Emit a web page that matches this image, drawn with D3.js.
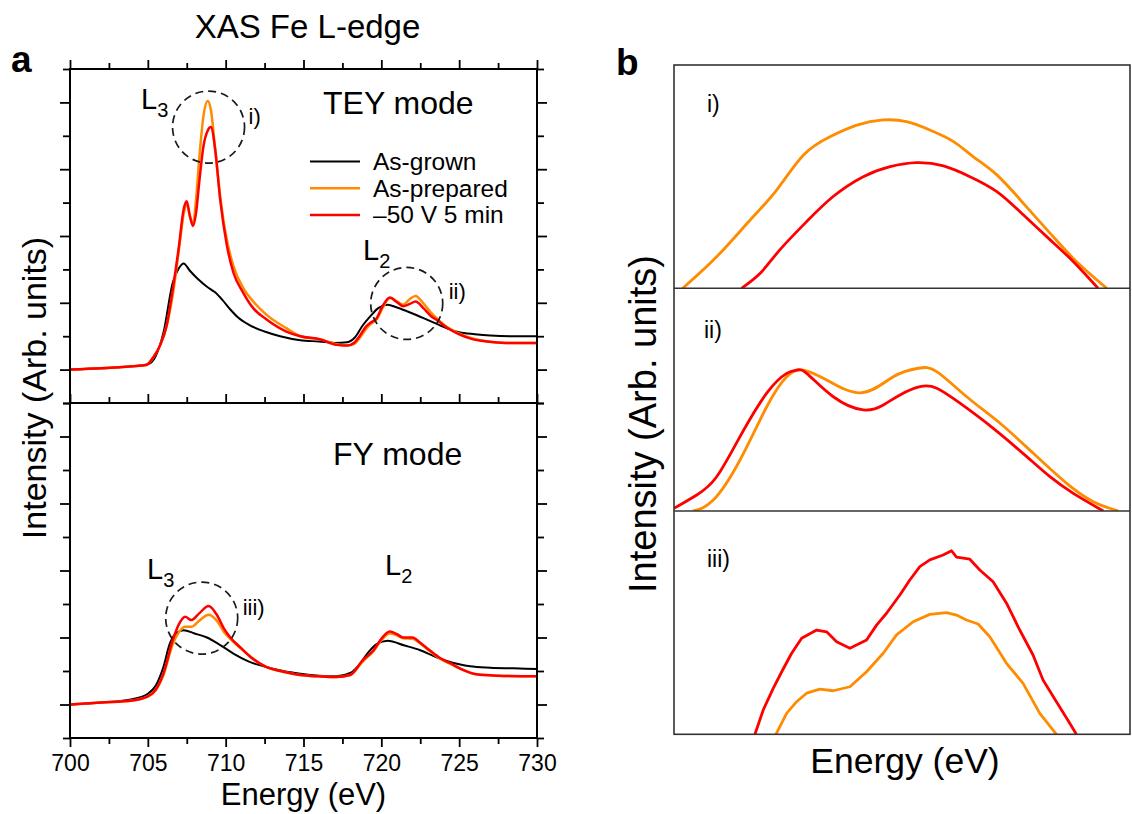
<!DOCTYPE html>
<html>
<head>
<meta charset="utf-8">
<script src="https://cdn.jsdelivr.net/npm/d3@7"></script>
<style>
  body { margin: 0; background: #fff; }
  svg text { font-family: "Liberation Sans", Arial, Helvetica, sans-serif; fill: #000; }
</style>
</head>
<body>
<svg id="fig" width="1132" height="814"></svg>
<script>
// ---------- data ----------
const energyMajor = [700, 705, 710, 715, 720, 725, 730];
const energyMinor = [702.5, 707.5, 712.5, 717.5, 722.5, 727.5];
const intensityMajor = [0, 1, 2, 3, 4];
const intensityMinor = [-0.5, 0.5, 1.5, 2.5, 3.5, 4.5];

const seriesNames = ["As-grown", "As-prepared", "\u201350 V 5 min"];
const seriesColors = ["#000000", "#ff8c00", "#ff0000"];

// TEY mode spectra [energy (eV), intensity]
const teyAsGrown = [[700,0],[702,0.02],[704,0.05],[705,0.08],[705.5,0.2],[706,0.55],[706.6,1.3],[707,1.52],[707.3,1.59],[707.7,1.48],[708.2,1.36],[708.8,1.24],[709.3,1.16],[709.8,1.04],[710.3,0.9],[710.8,0.78],[711.5,0.67],[712.5,0.57],[713.5,0.5],[714.8,0.44],[716,0.42],[717,0.4],[717.8,0.41],[718.3,0.48],[718.8,0.66],[719.3,0.8],[719.8,0.92],[720.4,0.97],[721,0.93],[722,0.84],[723,0.74],[723.6,0.68],[724.3,0.61],[725,0.56],[726,0.53],[727,0.51],[728.5,0.5],[730,0.5]];
const teyAsPrepared = [[700,0],[702,0.02],[704,0.05],[704.9,0.07],[705.4,0.2],[705.8,0.37],[706.2,0.65],[706.6,1.12],[707,1.8],[707.3,2.33],[707.5,2.48],[707.7,2.3],[707.9,2.18],[708.1,2.55],[708.3,3.15],[708.57,3.79],[708.85,4.02],[709.05,3.89],[709.33,3.29],[709.65,2.59],[710.07,1.95],[710.5,1.55],[711.13,1.22],[711.77,1.02],[712.63,0.82],[713.9,0.62],[714.8,0.5],[716.1,0.45],[717.1,0.38],[717.8,0.36],[718.3,0.39],[718.6,0.47],[719,0.6],[719.3,0.68],[719.7,0.75],[720.1,0.93],[720.55,1.07],[721,1.02],[721.4,0.97],[721.8,1.05],[722.2,1.1],[722.7,0.99],[723.2,0.85],[723.6,0.76],[724.2,0.64],[724.9,0.55],[725.8,0.47],[726.8,0.42],[728,0.4],[730,0.4]];
const teyBiased = [[700,0],[702,0.02],[704,0.05],[704.9,0.07],[705.4,0.2],[705.8,0.37],[706.2,0.65],[706.6,1.2],[707,1.85],[707.3,2.4],[707.5,2.52],[707.7,2.3],[707.9,2.15],[708.1,2.35],[708.3,2.8],[708.57,3.34],[708.85,3.58],[709.05,3.63],[709.33,3.29],[709.65,2.54],[710.07,1.87],[710.5,1.45],[711.13,1.15],[711.77,0.92],[712.63,0.75],[713.9,0.57],[714.8,0.5],[716.1,0.45],[717.1,0.37],[717.8,0.36],[718.3,0.41],[718.6,0.5],[719,0.64],[719.3,0.7],[719.7,0.77],[720.1,0.96],[720.55,1.08],[721,1.01],[721.4,0.95],[721.8,0.98],[722.2,1.02],[722.7,0.92],[723.2,0.8],[723.6,0.74],[724.2,0.63],[724.9,0.54],[725.8,0.46],[726.8,0.42],[728,0.4],[730,0.4]];

// FY mode spectra [energy (eV), intensity]
const fyAsGrown = [[700,0],[702,0.03],[704,0.08],[705,0.16],[705.5,0.28],[706,0.56],[706.4,0.9],[706.8,1.06],[707.3,1.11],[708,1.06],[708.8,1.0],[709.5,0.91],[710.5,0.76],[711.5,0.64],[712.6,0.56],[713.7,0.5],[714.8,0.46],[716,0.43],[717.1,0.42],[718,0.47],[718.6,0.6],[719.1,0.76],[719.7,0.9],[720.4,0.95],[721.5,0.88],[722.5,0.81],[723.4,0.72],[724.2,0.65],[725,0.6],[725.7,0.57],[727,0.55],[728.5,0.54],[730,0.53]];
const fyAsPrepared = [[700,0],[702,0.03],[704,0.06],[705,0.12],[705.5,0.21],[706,0.44],[706.6,0.9],[707,1.08],[707.4,1.16],[707.8,1.16],[708.3,1.25],[708.9,1.34],[709.4,1.26],[709.9,1.08],[710.3,0.98],[711,0.83],[711.6,0.71],[712.6,0.56],[713.7,0.49],[714.8,0.44],[716,0.42],[717.1,0.41],[718,0.44],[718.8,0.64],[719.5,0.8],[720,0.96],[720.55,1.06],[721,1.03],[721.4,0.99],[722,0.98],[722.5,0.91],[723.1,0.8],[723.8,0.68],[724.4,0.61],[725.2,0.52],[726.1,0.45],[727.5,0.43],[730,0.42]];
const fyBiased = [[700,0],[702,0.03],[704,0.06],[705,0.12],[705.5,0.22],[706,0.46],[706.6,0.96],[707,1.2],[707.4,1.31],[707.8,1.26],[708.3,1.36],[708.9,1.47],[709.4,1.35],[709.9,1.13],[710.3,1.0],[711,0.84],[711.6,0.71],[712.6,0.56],[713.7,0.49],[714.8,0.44],[716,0.42],[717.1,0.41],[718,0.44],[718.8,0.66],[719.5,0.81],[720,0.98],[720.55,1.09],[721,1.05],[721.4,1.0],[722,1.0],[722.5,0.92],[723.1,0.81],[723.8,0.69],[724.4,0.62],[725.2,0.52],[726.1,0.45],[727.5,0.43],[730,0.42]];

// magnified regions (panel b), [energy (eV), intensity above the window floor]
const zoomIPrepared = [[708.419,0],[708.494,0.142],[708.567,0.306],[708.625,0.44],[708.684,0.597],[708.742,0.679],[708.801,0.731],[708.859,0.754],[708.91,0.746],[708.961,0.709],[709.013,0.657],[709.056,0.59],[709.108,0.508],[709.166,0.381],[709.225,0.246],[709.283,0.119],[709.349,0]];
const zoomIBiased = [[708.548,0],[708.589,0.067],[708.632,0.172],[708.691,0.299],[708.749,0.411],[708.815,0.5],[708.874,0.545],[708.932,0.563],[708.991,0.548],[709.049,0.5],[709.108,0.433],[709.166,0.329],[709.225,0.217],[709.276,0.119],[709.33,0]];
const zoomIIPrepared = [[719.249,0],[719.524,0.049],[719.88,0.229],[720.236,0.468],[720.503,0.603],[720.724,0.633],[721.036,0.588],[721.503,0.531],[721.924,0.603],[722.257,0.641],[722.503,0.626],[722.903,0.513],[723.347,0.394],[723.791,0.259],[724.236,0.124],[724.591,0.042],[724.924,0]];
const zoomIIBiased = [[719.0,0.012],[719.303,0.072],[719.569,0.154],[719.88,0.334],[720.236,0.529],[720.503,0.618],[720.636,0.633],[720.769,0.618],[721.124,0.513],[721.524,0.454],[721.791,0.476],[722.013,0.521],[722.28,0.558],[722.503,0.551],[722.813,0.484],[723.257,0.371],[723.703,0.244],[724.013,0.154],[724.324,0.079],[724.724,0]];
const zoomIIIPrepared = [[706.933,0],[707.052,0.094],[707.163,0.146],[707.274,0.184],[707.422,0.202],[707.57,0.195],[707.756,0.213],[707.941,0.28],[708.126,0.363],[708.274,0.445],[708.459,0.504],[708.644,0.537],[708.83,0.545],[708.941,0.534],[709.052,0.512],[709.181,0.494],[709.311,0.437],[709.497,0.318],[709.681,0.228],[709.867,0.094],[710.052,0]];
const zoomIIIBiased = [[706.7,0],[706.792,0.109],[706.903,0.206],[707.008,0.288],[707.108,0.363],[707.219,0.43],[707.386,0.467],[707.497,0.459],[707.608,0.415],[707.756,0.385],[707.941,0.422],[708.052,0.489],[708.163,0.542],[708.311,0.624],[708.422,0.691],[708.533,0.751],[708.644,0.781],[708.792,0.803],[708.886,0.822],[708.941,0.793],[709.089,0.784],[709.2,0.736],[709.348,0.683],[709.497,0.587],[709.644,0.467],[709.792,0.355],[709.903,0.243],[710.052,0.146],[710.2,0.049],[710.274,0]];
const zoomEnergyRanges = [[708.4, 709.4], [719.0, 725.08], [705.8, 710.87]];
const zoomLabels = ["i)", "ii)", "iii)"];

// ---------- layout ----------
const svg = d3.select("#fig");
const FONT = '"Liberation Sans", Arial, Helvetica, sans-serif';

const x = d3.scaleLinear().domain([700, 730]).range([70, 537]);
const yTey = d3.scaleLinear().domain([-0.5, 4.5]).range([403, 69]);
const yFy = d3.scaleLinear().domain([-0.5, 4.5]).range([738, 403]);

// ---------- panel a: axes ----------
function drawTicks(axisFn, scale, values, size, translate, withLabels) {
  const ax = axisFn(scale).tickValues(values).tickSizeInner(size).tickSizeOuter(0).tickPadding(8);
  if (!withLabels) ax.tickFormat(() => "");
  const g = svg.append("g").attr("transform", translate).call(ax);
  g.select(".domain").remove();
  g.selectAll(".tick line").attr("stroke", "#000").attr("stroke-width", 1.8);
  g.selectAll(".tick text").attr("font-size", 23).attr("font-family", FONT).attr("fill", "#000");
  return g;
}
// energy axes: bottom of FY, top of TEY, shared divider
drawTicks(d3.axisBottom, x, energyMajor, 9, "translate(0,738)", true);
drawTicks(d3.axisBottom, x, energyMinor, 6, "translate(0,738)", false);
drawTicks(d3.axisTop, x, energyMajor, 9, "translate(0,69)", false);
drawTicks(d3.axisTop, x, energyMinor, 6, "translate(0,69)", false);
drawTicks(d3.axisTop, x, energyMajor, 9, "translate(0,403)", false);
drawTicks(d3.axisTop, x, energyMinor, 6, "translate(0,403)", false);
// intensity axes, left and right of both modes
[yTey, yFy].forEach(ys => {
  drawTicks(d3.axisLeft, ys, intensityMajor, 10, "translate(70,0)", false);
  drawTicks(d3.axisLeft, ys, intensityMinor, 7, "translate(70,0)", false);
  drawTicks(d3.axisRight, ys, intensityMajor, 10, "translate(537,0)", false);
  drawTicks(d3.axisRight, ys, intensityMinor, 7, "translate(537,0)", false);
});

// ---------- panel a: spectra ----------
const clipA = svg.append("defs");
clipA.append("clipPath").attr("id", "clipTey").append("rect").attr("x", 70).attr("y", 69).attr("width", 467).attr("height", 334);
clipA.append("clipPath").attr("id", "clipFy").append("rect").attr("x", 70).attr("y", 403).attr("width", 467).attr("height", 335);

function drawSpectra(sets, ys, clipId, widths) {
  const line = d3.line().x(d => x(d[0])).y(d => ys(d[1])).curve(d3.curveMonotoneX);
  const g = svg.append("g").attr("clip-path", `url(#${clipId})`);
  sets.forEach((s, i) => {
    g.append("path").datum(s).attr("d", line).attr("fill", "none")
      .attr("stroke", seriesColors[i]).attr("stroke-width", widths[i])
      .attr("stroke-linejoin", "round").attr("stroke-linecap", "round");
  });
}
drawSpectra([teyAsGrown, teyAsPrepared, teyBiased], yTey, "clipTey", [2, 2.5, 2.5]);
drawSpectra([fyAsGrown, fyAsPrepared, fyBiased], yFy, "clipFy", [2, 2.5, 2.5]);

// frame of panel a
svg.append("rect").attr("x", 70).attr("y", 69).attr("width", 467).attr("height", 669)
  .attr("fill", "none").attr("stroke", "#000").attr("stroke-width", 2);
svg.append("line").attr("x1", 70).attr("x2", 537).attr("y1", 403).attr("y2", 403)
  .attr("stroke", "#000").attr("stroke-width", 2);

// dashed circles marking the magnified regions
const circles = [
  { e: 708.9, v: 3.63, ys: yTey, label: "i)", dx: 40, dy: -3 },
  { e: 721.63, v: 0.99, ys: yTey, label: "ii)", dx: 42, dy: -4 },
  { e: 708.46, v: 1.29, ys: yFy, label: "iii)", dx: 41, dy: -3 }
];
circles.forEach(c => {
  const cx = x(c.e), cy = c.ys(c.v);
  svg.append("circle").attr("cx", cx).attr("cy", cy).attr("r", 36)
    .attr("fill", "none").attr("stroke", "#1a1a1a").attr("stroke-width", 1.7)
    .attr("stroke-dasharray", "8,5");
  svg.append("text").attr("x", cx + c.dx).attr("y", cy + c.dy)
    .attr("font-size", 22).text(c.label);
});

// edge labels
function edgeLabel(px, py, sub) {
  const t = svg.append("text").attr("x", px).attr("y", py).attr("font-size", 29);
  t.append("tspan").text("L");
  t.append("tspan").attr("font-size", 20).attr("dy", 8).text(sub);
}
edgeLabel(141, 109, "3");
edgeLabel(363, 260, "2");
edgeLabel(147, 579, "3");
edgeLabel(385, 575, "2");

// mode labels
svg.append("text").attr("x", 323).attr("y", 114).attr("font-size", 32).text("TEY mode");
svg.append("text").attr("x", 333).attr("y", 465).attr("font-size", 32).text("FY mode");

// legend
const legend = svg.append("g");
seriesNames.forEach((name, i) => {
  const yy = 161.5 + i * 26.7;
  legend.append("line").attr("x1", 310).attr("x2", 360).attr("y1", yy).attr("y2", yy)
    .attr("stroke", seriesColors[i]).attr("stroke-width", i === 0 ? 2 : 2.5);
  legend.append("text").attr("x", 373).attr("y", yy + 8.5).attr("font-size", 24.5).text(name);
});

// titles and axis labels
svg.append("text").attr("x", 307.5).attr("y", 38).attr("text-anchor", "middle").attr("font-size", 33).text("XAS Fe L-edge");
svg.append("text").attr("x", 11).attr("y", 72).attr("font-size", 37).attr("font-weight", "bold").text("a");
svg.append("text").attr("x", 303.5).attr("y", 805).attr("text-anchor", "middle").attr("font-size", 31).text("Energy (eV)");
svg.append("text").attr("transform", "translate(46,388) rotate(-90)").attr("text-anchor", "middle")
  .attr("font-size", 34).text("Intensity (Arb. units)");

// ---------- panel b: magnified regions ----------
const bLeft = 674, bRight = 1130;
const bRows = [[65, 288.3], [288.3, 511], [511, 734.3]];
const zoomSets = [[zoomIPrepared, zoomIBiased], [zoomIIPrepared, zoomIIBiased], [zoomIIIPrepared, zoomIIIBiased]];
const defsB = svg.append("defs");
bRows.forEach((row, k) => {
  const [top, bottom] = row;
  const xs = d3.scaleLinear().domain(zoomEnergyRanges[k]).range([bLeft, bRight]);
  const ys = d3.scaleLinear().domain([0, 1]).range([bottom, top]);
  defsB.append("clipPath").attr("id", "clipB" + k).append("rect")
    .attr("x", bLeft).attr("y", top).attr("width", bRight - bLeft).attr("height", bottom - top);
  const line = d3.line().x(d => xs(d[0])).y(d => ys(d[1]))
    .curve(k === 2 ? d3.curveLinear : d3.curveNatural);
  const g = svg.append("g").attr("clip-path", `url(#clipB${k})`);
  zoomSets[k].forEach((s, i) => {
    g.append("path").datum(s).attr("d", line).attr("fill", "none")
      .attr("stroke", seriesColors[i + 1]).attr("stroke-width", 2.8)
      .attr("stroke-linejoin", "round");
  });
  svg.append("text").attr("x", k === 1 ? 704 : 707).attr("y", [112, 338, 567][k])
    .attr("font-size", 23).text(zoomLabels[k]);
});
svg.append("rect").attr("x", bLeft).attr("y", 65).attr("width", bRight - bLeft).attr("height", 734.3 - 65)
  .attr("fill", "none").attr("stroke", "#333").attr("stroke-width", 1.6);
[288.3, 511].forEach(yy => {
  svg.append("line").attr("x1", bLeft).attr("x2", bRight).attr("y1", yy).attr("y2", yy)
    .attr("stroke", "#333").attr("stroke-width", 1.6);
});
svg.append("text").attr("x", 616).attr("y", 75).attr("font-size", 37).attr("font-weight", "bold").text("b");
svg.append("text").attr("x", 905).attr("y", 773).attr("text-anchor", "middle").attr("font-size", 35.5).text("Energy (eV)");
svg.append("text").attr("transform", "translate(656,424) rotate(-90)").attr("text-anchor", "middle")
  .attr("font-size", 38).text("Intensity (Arb. units)");
</script>
</body>
</html>
